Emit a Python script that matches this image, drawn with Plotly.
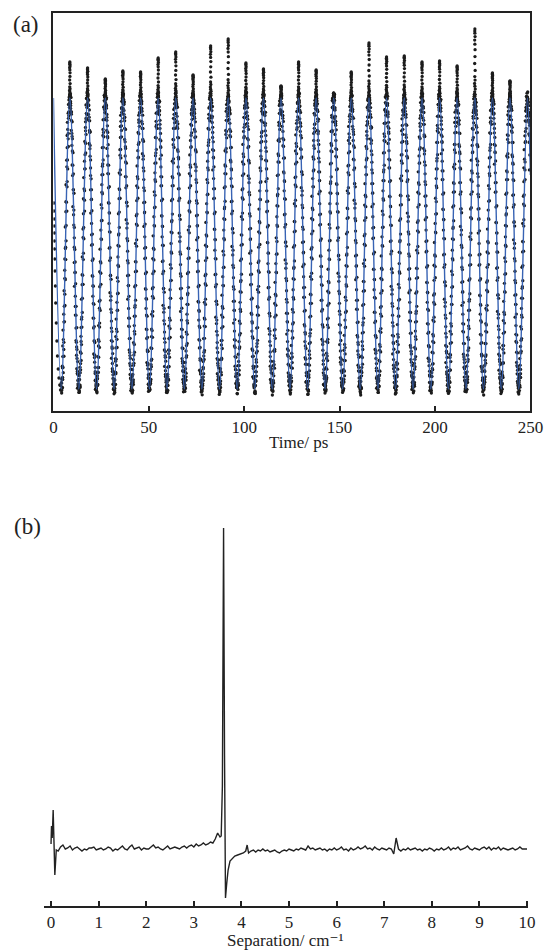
import plotly.graph_objects as go

# ---------------- Panel (a): time-domain oscillation ----------------
# fitted-curve extrema (ps) and levels (arbitrary units, 0..398)
trough_t = [4.1, 13.3, 22.6, 31.8, 41.1, 50.3, 59.5, 68.6, 77.8, 87.0, 96.3, 105.5, 114.7,
            124.0, 133.2, 142.4, 151.6, 160.8, 170.1, 179.3, 188.5, 197.8, 207.0, 216.2,
            225.4, 234.7, 243.9]
peak_t = [8.6, 17.9, 27.2, 36.4, 45.7, 54.9, 64.1, 73.2, 82.4, 91.6, 100.9, 110.1, 119.3,
          128.5, 137.7, 146.9, 156.1, 165.4, 174.6, 183.9, 193.2, 202.4, 211.6, 220.9,
          230.1, 239.3, 248.4]
# highest measured dot above each peak
streak_top = [349, 343, 332, 340, 339, 353, 359, 336, 365, 372, 348, 342, 325, 349, 341,
              318, 339, 368, 354, 355, 349, 350, 345, 382, 338, 330, 311]
fit_trough = 22
fit_peak = 313
line_start = (0, 313)
line_end = (250, 236)

# one half-cycle of sampled points (fraction of time, fraction of amplitude)
rise_f = [0, .015, .03, .044, .06, .074, .09, .103, .12, .132, .15, .162, .18, .191, .21,
          .221, .24, .25, .26, .279, .29, .309, .32, .338, .35, .368, .38, .397, .41, .426,
          .44, .456, .47, .485, .5, .515, .53, .544, .56, .574, .59, .603, .62, .632, .65,
          .662, .68, .691, .71, .721, .74, .75, .76, .779, .79, .809, .82, .838, .85, .868,
          .88, .897, .91, .926, .94, .956, .97, .985, 1.0]
rise_a = [0.0, 0.0005, 0.002, 0.005, 0.009, 0.013, 0.019, 0.026, 0.034, 0.043, 0.052, 0.063,
          0.075, 0.088, 0.101, 0.116, 0.131, 0.146, 0.163, 0.181, 0.199, 0.218, 0.237, 0.257,
          0.277, 0.298, 0.319, 0.341, 0.363, 0.386, 0.408, 0.431, 0.454, 0.477, 0.5, 0.523,
          0.546, 0.569, 0.592, 0.615, 0.637, 0.659, 0.681, 0.702, 0.723, 0.743, 0.763, 0.783,
          0.801, 0.819, 0.837, 0.854, 0.87, 0.885, 0.899, 0.913, 0.925, 0.937, 0.948, 0.957,
          0.966, 0.974, 0.981, 0.987, 0.992, 0.995, 0.998, 0.9995, 1.0]
# measured scatter of the samples about the fit
rise_dt = [0.2, -0.3, 0.1, -0.1, 0.35, -0.2, 0.0, 0.25, -0.35, 0.15, -0.05, 0.3, -0.25, 0.05,
           -0.15, 0.4, -0.3, 0.2, -0.1, 0.1, -0.4, 0.25, 0.0, -0.2, 0.35, -0.05, 0.15, -0.3,
           0.05, 0.2, -0.15, 0.3, -0.25, 0.1, -0.1]
rise_dy = [-4, 3, -2, 5, -1, 2, -5, 4, 0, -3, 6, -2, 1, -4, 3, -1, 5, -3, 2, -6, 1, 4, -2, 0,
           3, -4, 2, -1, 5, -3, 0, 4, -2, 3, -5]
fall_dt = [-0.1, 0.3, -0.25, 0.15, 0.0, -0.35, 0.2, -0.05, 0.3, -0.2, 0.1, -0.3, 0.4, -0.1,
           0.05, -0.25, 0.2, 0.0, -0.15, 0.35, -0.05, 0.1, -0.3, 0.25, -0.2, 0.15, 0.0, 0.3,
           -0.35, 0.1, -0.1, 0.2, -0.15, 0.05, 0.25]
fall_dy = [3, -5, 1, -2, 4, -3, 6, 0, -4, 2, -1, 5, -2, 3, -6, 1, -3, 4, 0, -2, 5, -4, 2, -1,
           3, -5, 1, 4, -3, 0, 2, -4, 5, -1, -6]
streak_frac = [0.02, 0.05, 0.09, 0.13, 0.17, 0.21, 0.26, 0.31, 0.4, 0.5, 0.6, 0.7, 0.78,
               0.84, 0.89, 0.94, 0.97, 1.0]
streak_dt = [-0.2, 0.15, -0.1, 0.2, 0.0, -0.15, 0.1, -0.05, 0.15, -0.1, 0.05, 0.1, 0.0,
             -0.1, 0.1, 0.0, -0.05, 0.0]
# first samples at the left edge
start_t = [0.3, 0.3, 0.4, 0.4, 0.5, 0.5, 0.6, 0.7, 0.8, 1.0, 1.2, 1.5, 1.8, 2.1, 2.5, 2.9, 3.3, 3.7]
start_y = [208, 200, 192, 185, 178, 170, 162, 152, 140, 125, 108, 88, 70, 55, 42, 33, 26, 21]

# ---------------- Panel (b): spectrum ----------------
spec_x0 = [0.0, 0.01, 0.025, 0.045, 0.08, 0.11]
spec_y0 = [62, 80, 68, 96, 31, 56]
base1_start, base_step = 0.15, 0.05
base1 = [55, 59, 61, 57, 58, 60, 56, 58, 59, 57,
         55, 57, 56, 58, 58, 59, 56, 57, 58, 56,
         57, 59, 58, 55, 57, 56, 58, 60, 57, 56,
         59, 61, 57, 58, 59, 56, 58, 57, 57, 59,
         61, 58, 59, 57, 56, 58, 60, 57, 58, 59,
         58, 57, 59, 60, 58, 60, 61, 59, 62, 60,
         61, 63, 61, 62, 64, 63, 67, 73, 69]
peak_x = [3.575, 3.60, 3.625, 3.645, 3.665, 3.69, 3.72, 3.76, 3.81, 3.86, 3.92, 3.98, 4.04,
          4.09, 4.12, 4.15]
peak_y = [70, 120, 378, 150, 8, 22, 36, 45, 48, 50, 51, 52, 53, 55, 61, 53]
base2_start = 4.20
base2 = [55, 56, 54, 56, 55, 57, 55, 56, 54, 55,
         56, 54, 53, 55, 56, 55, 57, 56, 55, 57,
         56, 58, 57, 56, 60, 57, 58, 56, 57, 58,
         56, 57, 55, 57, 56, 58, 56, 57, 59, 56,
         57, 55, 58, 56, 57, 59, 57, 58, 60, 57,
         58, 56, 59, 57, 56, 58, 57, 56, 58, 57,
         52, 68, 57, 55, 57, 56, 58, 56, 57, 58,
         56, 57, 55, 57, 56, 58, 57, 55, 57, 56,
         58, 56, 57, 59, 56, 58, 57, 59, 56, 57,
         58, 60, 57, 56, 58, 57, 56, 58, 59, 57,
         59, 56, 58, 57, 59, 56, 58, 57, 56, 57,
         58, 56, 57, 59, 57, 57, 57]

top_ticks = [0, 50, 100, 150, 200, 250]
bot_ticks = [0, 1, 2, 3, 4, 5, 6, 7, 8, 9, 10]
top_title = "Time/ ps"
bot_title = "Separation/ cm\u207b\u00b9"

# ---------------- build series ----------------
amp = fit_peak - fit_trough
dot_t, dot_y = list(start_t), list(start_y)
n = len(trough_t)
m = len(rise_f)
for c in range(n):
    t0, tp = trough_t[c], peak_t[c]
    t1 = trough_t[c + 1] if c + 1 < n else tp + (tp - t0)
    sh = (c * 11) % len(rise_dy)
    for i in range(m):
        j = i + sh
        dot_t.append(t0 + rise_f[i] * (tp - t0) + rise_dt[j % len(rise_dt)])
        dot_y.append(fit_trough + rise_a[i] * amp + rise_dy[j % len(rise_dy)])
        k = m - 1 - i
        dot_t.append(tp + rise_f[i] * (t1 - tp) + fall_dt[j % len(fall_dt)])
        dot_y.append(fit_trough + rise_a[k] * amp + fall_dy[j % len(fall_dy)])
    if streak_top[c] > fit_peak:
        for fr, dt in zip(streak_frac, streak_dt):
            dot_t.append(tp + dt)
            dot_y.append(fit_peak + fr * (streak_top[c] - fit_peak))
pts = [(t, y) for t, y in zip(dot_t, dot_y) if 0.2 <= t <= 249.8]
dot_t = [p[0] for p in pts]
dot_y = [p[1] for p in pts]

line_t = [line_start[0]]
line_y = [line_start[1]]
for a, b in zip(trough_t, peak_t):
    line_t += [a, b]
    line_y += [fit_trough, fit_peak]
line_t.append(line_end[0])
line_y.append(line_end[1])

spec_x = list(spec_x0) + [round(base1_start + base_step * i, 3) for i in range(len(base1))] \
    + list(peak_x) + [round(base2_start + base_step * i, 3) for i in range(len(base2))]
spec_y = list(spec_y0) + base1 + list(peak_y) + base2

# ---------------- figure ----------------
W, H = 556, 950
FONT = "Liberation Serif, Times New Roman, DejaVu Serif, serif"
INK = "#222222"

fig = go.Figure()
fig.add_trace(go.Scatter(x=dot_t, y=dot_y, mode="markers",
                         marker=dict(color="#1c1c1c", size=3.3, line=dict(width=0)),
                         xaxis="x", yaxis="y", hoverinfo="skip"))
fig.add_trace(go.Scatter(x=line_t, y=line_y, mode="lines",
                         line=dict(color="#3863b4", width=1.4, shape="spline"),
                         xaxis="x", yaxis="y", hoverinfo="skip"))
fig.add_trace(go.Scatter(x=spec_x, y=spec_y, mode="lines", line=dict(color=INK, width=1.4),
                         xaxis="x2", yaxis="y2", hoverinfo="skip"))


def px_x(p):
    return p / W


def px_y(p):
    return 1 - p / H


fig.update_layout(
    width=W, height=H, margin=dict(l=0, r=0, t=0, b=0),
    paper_bgcolor="white", plot_bgcolor="white", showlegend=False,
    font=dict(family=FONT, size=17, color=INK),
    xaxis=dict(domain=[px_x(51), px_x(543)], range=[0, 250], tickvals=top_ticks,
               ticks="inside", ticklen=5, tickwidth=2, tickcolor=INK,
               showline=True, linewidth=2, linecolor=INK, mirror=True,
               showgrid=False, zeroline=False, anchor="y",
               tickfont=dict(family=FONT, size=17, color=INK)),
    yaxis=dict(domain=[px_y(411), px_y(13)], range=[0, 398], showticklabels=False,
               ticks="", showline=True, linewidth=2, linecolor=INK, mirror=True,
               showgrid=False, zeroline=False, anchor="x"),
    xaxis2=dict(domain=[px_x(41), px_x(541)], range=[-0.153, 10.03], tickvals=bot_ticks,
                ticks="inside", ticklen=5, tickwidth=2, tickcolor=INK,
                showline=True, linewidth=2, linecolor=INK, mirror=False,
                showgrid=False, zeroline=False, anchor="y2",
                tickfont=dict(family=FONT, size=17, color=INK)),
    yaxis2=dict(domain=[px_y(906), px_y(506)], range=[0, 400], visible=False, anchor="x2"),
    annotations=[
        dict(text="(a)", x=px_x(23), y=px_y(25), xref="paper", yref="paper",
             showarrow=False, xanchor="center", yanchor="middle",
             font=dict(family=FONT, size=23, color=INK)),
        dict(text="(b)", x=px_x(24), y=px_y(526), xref="paper", yref="paper",
             showarrow=False, xanchor="center", yanchor="middle",
             font=dict(family=FONT, size=23, color=INK)),
        dict(text=top_title, x=px_x(304), y=px_y(442), xref="paper", yref="paper",
             showarrow=False, xanchor="center", yanchor="middle",
             font=dict(family=FONT, size=17, color=INK)),
        dict(text=bot_title, x=px_x(290), y=px_y(940.8), xref="paper",
             yref="paper", showarrow=False, xanchor="center", yanchor="middle",
             font=dict(family=FONT, size=17, color=INK)),
    ],
)

fig.write_html("out.html")
